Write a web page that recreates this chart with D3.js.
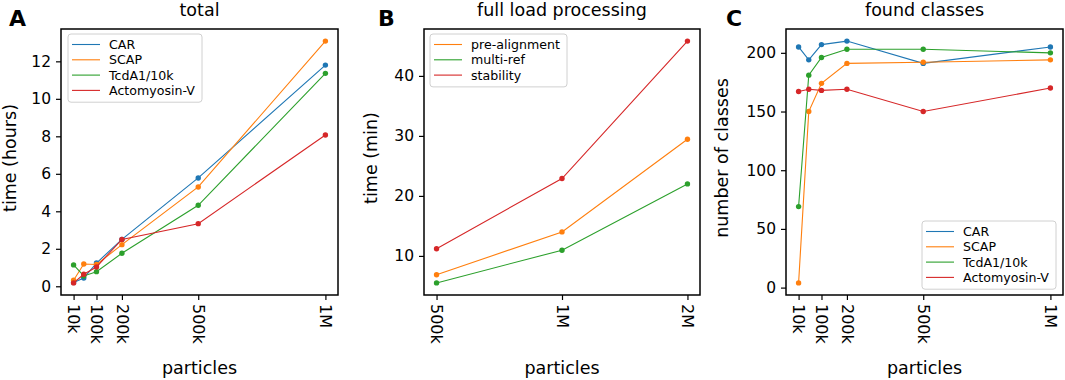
<!DOCTYPE html>
<html>
<head>
<meta charset="utf-8">
<script src="https://cdn.jsdelivr.net/npm/d3@7"></script>
<style>
  body { margin: 0; background: #fff; }
  svg { font-family: "DejaVu Sans", sans-serif; }
</style>
</head>
<body>
<div id="chart"></div>
<script>
// particle counts (x) for panels A and C
const particlesAC = [10000, 50000, 100000, 200000, 500000, 1000000];
const tickValsAC = [10000, 100000, 200000, 500000, 1000000];
const tickLabelsAC = ["10k", "100k", "200k", "500k", "1M"];

// panel A: total time (hours)
const carHours = [0.2, 0.44, 1.24, 2.5, 5.78, 11.8];
const scapHours = [0.32, 1.19, 1.16, 2.22, 5.3, 13.08];
const tcdHours = [1.14, 0.55, 0.78, 1.76, 4.32, 11.36];
const actoHours = [0.18, 0.64, 1.03, 2.5, 3.34, 8.07];

// panel B: full load processing (min)
const particlesB = [500000, 1000000, 2000000];
const tickLabelsB = ["500k", "1M", "2M"];
const preAlignMin = [6.85, 14.0, 29.45];
const multiRefMin = [5.5, 10.95, 22.0];
const stabilityMin = [11.2, 22.9, 45.8];

// panel C: found classes
const carClasses = [205, 194, 207, 210, 191, 205];
const scapClasses = [4, 150, 174, 191, 192, 194];
const tcdClasses = [69, 181, 196, 203, 203, 200];
const actoClasses = [167, 169, 168, 169, 150, 170];

const blue = "#1f77b4", orange = "#ff7f0e", green = "#2ca02c", red = "#d62728";

const svg = d3.select("#chart").append("svg")
    .attr("width", 1065)
    .attr("height", 380);

const plotTop = 29, plotBottom = 295;

function pad(ext) {
    const m = (ext[1] - ext[0]) * 0.05;
    return [ext[0] - m, ext[1] + m];
}

function drawPanel(p) {
    const g = svg.append("g");

    const allY = [].concat(...p.series.map(s => s.values));
    const y = d3.scaleLinear().domain(pad(d3.extent(allY))).range([plotBottom, plotTop]);

    let x;
    if (p.log) {
        const ext = d3.extent(p.xs).map(Math.log10);
        const d = pad(ext).map(v => Math.pow(10, v));
        x = d3.scaleLog().domain(d).range([p.left, p.right]);
    } else {
        x = d3.scaleLinear().domain(pad(d3.extent(p.xs))).range([p.left, p.right]);
    }

    // y axis
    const yAxis = g.append("g")
        .attr("transform", `translate(${p.left},0)`)
        .call(d3.axisLeft(y).tickValues(p.yTicks).tickSize(5).tickPadding(5).tickFormat(d3.format("d")));
    yAxis.select(".domain").remove();
    yAxis.selectAll("line").attr("stroke", "#000").attr("stroke-width", 1.2);
    yAxis.selectAll("text").attr("font-size", 15.5).attr("fill", "#000")
        .attr("font-family", "DejaVu Sans");

    // x axis
    const xAxis = g.append("g")
        .attr("transform", `translate(0,${plotBottom})`)
        .call(d3.axisBottom(x).tickValues(p.xTicks).tickSize(5)
            .tickFormat((d, i) => p.xLabels[i]));
    xAxis.select(".domain").remove();
    xAxis.selectAll("line").attr("stroke", "#000").attr("stroke-width", 1.2);
    xAxis.selectAll("text")
        .attr("font-size", 16).attr("fill", "#000")
        .attr("font-family", "DejaVu Sans")
        .attr("text-anchor", "start")
        .attr("x", 0).attr("y", 0)
        .attr("dy", "0.35em")
        .attr("transform", "translate(0,9) rotate(90)");

    // lines and points
    const line = d3.line().x((d, i) => x(p.xs[i])).y(d => y(d));
    p.series.forEach(s => {
        g.append("path")
            .datum(s.values)
            .attr("fill", "none")
            .attr("stroke", s.color)
            .attr("stroke-width", 1.1)
            .attr("d", line);
        g.selectAll(null)
            .data(s.values)
            .enter().append("circle")
            .attr("cx", (d, i) => x(p.xs[i]))
            .attr("cy", d => y(d))
            .attr("r", 2.7)
            .attr("fill", s.color);
    });

    // frame
    g.append("rect")
        .attr("x", p.left).attr("y", plotTop)
        .attr("width", p.right - p.left).attr("height", plotBottom - plotTop)
        .attr("fill", "none").attr("stroke", "#000").attr("stroke-width", 1.5);

    // legend
    const lg = g.append("g").attr("transform", `translate(${p.legend.x},${p.legend.y})`);
    lg.append("rect")
        .attr("width", p.legend.w).attr("height", p.series.length * 15.3 + 7)
        .attr("rx", 3)
        .attr("fill", "#fff").attr("fill-opacity", 0.8)
        .attr("stroke", "#d0d0d0");
    p.series.forEach((s, i) => {
        const yy = 10.5 + i * 15.3;
        lg.append("line")
            .attr("x1", 4).attr("x2", 32).attr("y1", yy).attr("y2", yy)
            .attr("stroke", s.color).attr("stroke-width", 1.1);
        lg.append("text")
            .attr("x", 41).attr("y", yy).attr("dy", "0.35em")
            .attr("font-size", 12.6)
            .text(s.name);
    });

    // title, labels
    const cx = (p.left + p.right) / 2;
    g.append("text").attr("x", cx).attr("y", 16)
        .attr("text-anchor", "middle").attr("font-size", 17.5).text(p.title);
    g.append("text").attr("x", cx).attr("y", 374)
        .attr("text-anchor", "middle").attr("font-size", 17.5).text("particles");
    g.append("text")
        .attr("transform", `translate(${p.yLabelX},158) rotate(-90)`)
        .attr("text-anchor", "middle").attr("font-size", 17.5).text(p.yLabel);
    g.append("text").attr("x", p.letterX).attr("y", 26)
        .attr("font-size", 22).attr("font-weight", "bold").text(p.letter);
}

drawPanel({
    left: 61, right: 338, letter: "A", letterX: 9, title: "total",
    yLabel: "time (hours)", yLabelX: 16,
    xs: particlesAC, xTicks: tickValsAC, xLabels: tickLabelsAC,
    yTicks: [0, 2, 4, 6, 8, 10, 12],
    legend: { x: 68, y: 34, w: 134 },
    series: [
        { name: "CAR", color: blue, values: carHours },
        { name: "SCAP", color: orange, values: scapHours },
        { name: "TcdA1/10k", color: green, values: tcdHours },
        { name: "Actomyosin-V", color: red, values: actoHours }
    ]
});

drawPanel({
    left: 424, right: 700, letter: "B", letterX: 378, title: "full load processing",
    yLabel: "time (min)", yLabelX: 377, log: true,
    xs: particlesB, xTicks: particlesB, xLabels: tickLabelsB,
    yTicks: [10, 20, 30, 40],
    legend: { x: 430, y: 34, w: 137 },
    series: [
        { name: "pre-alignment", color: orange, values: preAlignMin },
        { name: "multi-ref", color: green, values: multiRefMin },
        { name: "stability", color: red, values: stabilityMin }
    ]
});

drawPanel({
    left: 786, right: 1063, letter: "C", letterX: 726, title: "found classes",
    yLabel: "number of classes", yLabelX: 728,
    xs: particlesAC, xTicks: tickValsAC, xLabels: tickLabelsAC,
    yTicks: [0, 50, 100, 150, 200],
    legend: { x: 922, y: 221, w: 134 },
    series: [
        { name: "CAR", color: blue, values: carClasses },
        { name: "SCAP", color: orange, values: scapClasses },
        { name: "TcdA1/10k", color: green, values: tcdClasses },
        { name: "Actomyosin-V", color: red, values: actoClasses }
    ]
});
</script>
</body>
</html>
